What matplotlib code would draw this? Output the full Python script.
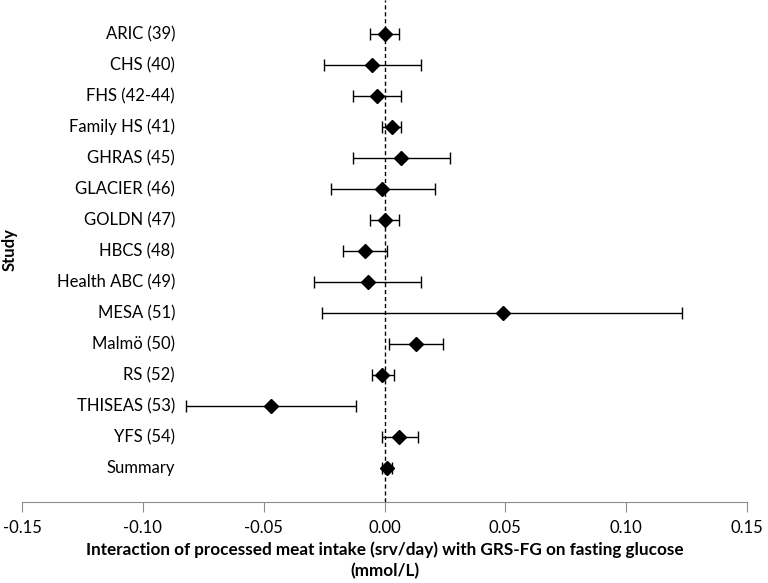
import matplotlib
matplotlib.use("Agg")
import matplotlib.pyplot as plt
import matplotlib.transforms as mtransforms

studies = ["ARIC (39)", "CHS (40)", "FHS (42-44)", "Family HS (41)", "GHRAS (45)",
           "GLACIER (46)", "GOLDN (47)", "HBCS (48)", "Health ABC (49)", "MESA (51)",
           "Malmö (50)", "RS (52)", "THISEAS (53)", "YFS (54)", "Summary"]
estimate = [0.000, -0.005, -0.003, 0.003, 0.007, -0.001, 0.000, -0.008, -0.007, 0.049,
            0.013, -0.001, -0.047, 0.006, 0.001]
ci_low = [-0.006, -0.025, -0.013, -0.001, -0.013, -0.022, -0.006, -0.017, -0.029, -0.026,
          0.002, -0.005, -0.082, -0.001, -0.001]
ci_high = [0.006, 0.015, 0.007, 0.007, 0.027, 0.021, 0.006, 0.001, 0.015, 0.123,
           0.024, 0.004, -0.012, 0.014, 0.003]
xticks = [-0.15, -0.10, -0.05, 0.00, 0.05, 0.10, 0.15]
xticklabels = ["-0.15", "-0.10", "-0.05", "0.00", "0.05", "0.10", "0.15"]

plt.rcParams['font.family'] = ['Lato', 'DejaVu Sans']

fig = plt.figure(figsize=(7.68, 5.83), dpi=100)
ax = fig.add_axes([22/768, 1 - 502/583, 725/768, 502/583])

ypos = list(range(1, len(studies) + 1))
xerr = [[e - l for e, l in zip(estimate, ci_low)], [h - e for e, h in zip(estimate, ci_high)]]

ax.axvline(0, color="black", linestyle=(0, (3, 2)), linewidth=1.0, zorder=1)
ax.errorbar(estimate, ypos, xerr=xerr, fmt="D", color="black", ecolor="black",
            markersize=7.5, elinewidth=1.0, capsize=4, capthick=1.0, zorder=3)

ax.set_xlim(-0.15, 0.15)
ax.set_ylim(16.1, -0.1)
ax.set_yticks([])
ax.set_xticks(xticks)
ax.set_xticklabels(xticklabels, fontsize=12)
for s in ["top", "right", "left"]:
    ax.spines[s].set_visible(False)
ax.spines["bottom"].set_color("#8c8c8c")
ax.tick_params(axis="x", direction="out", length=7, color="#8c8c8c", pad=6)

trans = mtransforms.blended_transform_factory(ax.transAxes, ax.transData)
for y, s in zip(ypos, studies):
    ax.text((175 - 22) / 725, y, s, transform=trans, ha="right", va="center", fontsize=12)

fig.text(385/768, 1 - 550/583,
         "Interaction of processed meat intake (srv/day) with GRS-FG on fasting glucose",
         ha="center", va="center", fontsize=12.3, fontweight="bold")
fig.text(385/768, 1 - 571/583, "(mmol/L)", ha="center", va="center",
         fontsize=12.3, fontweight="bold")
fig.text(10/768, 1 - 250/583, "Study", rotation=90, ha="center", va="center",
         fontsize=12, fontweight="bold")

fig.savefig("out.png", dpi=100)
